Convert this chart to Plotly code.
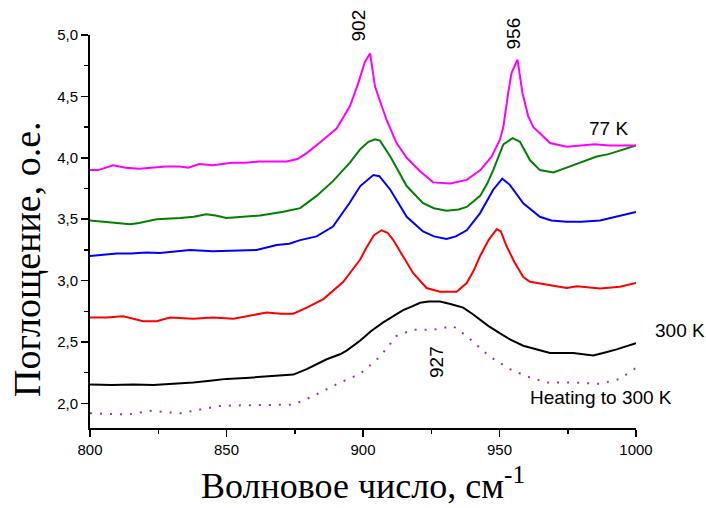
import plotly.graph_objects as go

# ---- data ----
x_77K = [800, 803, 808.5, 813, 818, 824, 828, 833, 836, 840, 845, 852, 857, 862, 867, 872, 876, 879.5,
         884, 890.4, 895.2, 898.3, 900.7, 902.6, 904.4, 906.8, 908.6, 912.3, 916, 920.9, 925.7, 932, 938,
         943, 947.1, 950.2, 951.4, 953.2, 954.4, 956.6, 958.4, 960.5, 962.4, 964.8, 968.5, 974.6, 980,
         985, 990, 995, 1000]
y_77K = [3.90, 3.90, 3.94, 3.92, 3.91, 3.92, 3.93, 3.93, 3.92, 3.95, 3.94, 3.96, 3.96, 3.97, 3.97, 3.97,
         3.99, 4.04, 4.12, 4.24, 4.42, 4.61, 4.78, 4.85, 4.58, 4.42, 4.31, 4.12, 4.00, 3.89, 3.80, 3.79,
         3.82, 3.90, 4.01, 4.15, 4.25, 4.53, 4.69, 4.80, 4.53, 4.34, 4.25, 4.20, 4.12, 4.09, 4.10, 4.11,
         4.10, 4.10, 4.10]

x_green = [800, 805, 810, 814.7, 818, 824.4, 833, 838, 842.6, 846, 850, 856, 862.3, 870.8, 877, 883, 889,
           895.2, 899, 902, 904.4, 906.2, 910, 913, 916, 922, 926, 930.6, 935, 938, 942.9, 945.5, 947.7,
           951.4, 954.8, 957.5, 961.2, 964.8, 969.7, 974.6, 979.5, 985.6, 990, 994.1, 1000]
y_green = [3.49, 3.48, 3.47, 3.46, 3.47, 3.50, 3.51, 3.52, 3.54, 3.53, 3.51, 3.52, 3.53, 3.56, 3.59, 3.69,
           3.81, 3.96, 4.07, 4.13, 4.15, 4.14, 4.01, 3.89, 3.77, 3.63, 3.59, 3.57, 3.58, 3.60, 3.69, 3.79,
           3.90, 4.11, 4.16, 4.13, 3.98, 3.90, 3.88, 3.92, 3.96, 4.01, 4.03, 4.06, 4.10]

x_blue = [800, 804, 809.8, 815, 820.8, 825.6, 831, 836.6, 845, 855, 861, 868.4, 873, 877, 883, 889, 895,
          899, 903.8, 906, 910, 913, 916, 922, 926, 930.6, 934, 938, 942.9, 947.7, 951, 953.8, 958.7,
          964.8, 969, 974.6, 980, 986.8, 994.1, 1000]
y_blue = [3.20, 3.21, 3.22, 3.22, 3.23, 3.225, 3.24, 3.25, 3.24, 3.25, 3.25, 3.29, 3.30, 3.33, 3.36, 3.44,
          3.63, 3.77, 3.86, 3.85, 3.74, 3.63, 3.52, 3.40, 3.36, 3.34, 3.36, 3.41, 3.55, 3.74, 3.83, 3.78,
          3.63, 3.52, 3.49, 3.48, 3.48, 3.49, 3.53, 3.56]

x_red = [800, 806, 812.2, 816, 819.5, 824.4, 829.3, 837.8, 845, 852.5, 858, 864.7, 870, 874.5, 879.4,
         885.5, 892.8, 898.9, 901.3, 904, 906.8, 909, 911.1, 915, 918.4, 923.3, 928.2, 934.3, 938, 940.5,
         942.9, 946, 949, 950.5, 952.6, 955.5, 958.7, 961.2, 969.7, 974.6, 978.3, 986.8, 994.1, 1000]
y_red = [2.70, 2.70, 2.71, 2.69, 2.67, 2.67, 2.70, 2.69, 2.70, 2.69, 2.71, 2.74, 2.73, 2.73, 2.78, 2.85,
         2.99, 3.17, 3.27, 3.37, 3.41, 3.39, 3.33, 3.18, 3.06, 2.94, 2.91, 2.91, 2.98, 3.08, 3.20, 3.33,
         3.42, 3.40, 3.28, 3.15, 3.03, 2.99, 2.96, 2.94, 2.955, 2.935, 2.95, 2.98]

x_300K = [800, 808, 815.9, 823.2, 830.5, 837.8, 844, 850, 858.6, 867, 874.5, 879.4, 886.7, 891.6, 894,
          898.9, 903, 907.4, 911, 914.7, 918, 920.9, 924, 928.2, 932, 936.7, 940, 942.9, 946, 950.2, 954,
          958.7, 964.8, 968.5, 977, 984.3, 988, 992.9, 1000]
y_300K = [2.155, 2.15, 2.155, 2.15, 2.16, 2.17, 2.185, 2.20, 2.21, 2.22, 2.235, 2.28, 2.36, 2.40, 2.43,
          2.51, 2.59, 2.66, 2.71, 2.76, 2.79, 2.82, 2.83, 2.83, 2.81, 2.78, 2.73, 2.68, 2.63, 2.57, 2.52,
          2.47, 2.43, 2.41, 2.41, 2.39, 2.41, 2.44, 2.49]

x_heat = [800, 814, 822, 833, 840.3, 847.6, 856, 867, 874.5, 881.8, 891.6, 898.9, 906.2, 912.3, 918.4,
          925.7, 933, 937.9, 946.5, 953.8, 960, 967.3, 977, 986.8, 994.1, 1000]
y_heat = [1.92, 1.91, 1.94, 1.92, 1.95, 1.98, 1.985, 1.99, 1.99, 2.06, 2.17, 2.24, 2.38, 2.55, 2.60, 2.60,
          2.63, 2.55, 2.38, 2.28, 2.22, 2.17, 2.17, 2.16, 2.20, 2.29]

x_ticks = [800, 850, 900, 950, 1000]
y_ticks = [2.0, 2.5, 3.0, 3.5, 4.0, 4.5, 5.0]

fig = go.Figure()
series = [
    (x_heat, y_heat, "#a030b0", "2px,8px"),
    (x_300K, y_300K, "black", "solid"),
    (x_red, y_red, "#ff0000", "solid"),
    (x_blue, y_blue, "#0000ff", "solid"),
    (x_green, y_green, "#008000", "solid"),
    (x_77K, y_77K, "#ff00ff", "solid"),
]
for xs, ys, col, dash in series:
    fig.add_trace(go.Scatter(x=xs, y=ys, mode="lines",
                             line=dict(color=col, width=2, dash=dash),
                             showlegend=False, hoverinfo="skip"))

# plot area in page pixels: x 90..636, y 35..428
PX0, PX1, PY0, PY1 = 90, 636, 35, 428
W, H = 706, 508
def px(xp):
    return (xp - PX0) / (PX1 - PX0)
def py(yp):
    return (PY1 - yp) / (PY1 - PY0)

lab_font = dict(family="Liberation Sans, Arial", size=19, color="black")
anns = [
    dict(x=px(357.5), y=py(26), text="902", textangle=-90),
    dict(x=px(512.5), y=py(34), text="956", textangle=-90),
    dict(x=px(608), y=py(128.5), text="77 K", textangle=0),
    dict(x=px(680), y=py(330), text="300 K", textangle=0),
    dict(x=px(436), y=py(362), text="927", textangle=-90),
    dict(x=px(601), y=py(397), text="Heating to 300 K", textangle=0),
]
for a in anns:
    fig.add_annotation(x=a["x"], y=a["y"], xref="paper", yref="paper", text=a["text"],
                       textangle=a["textangle"], showarrow=False, font=lab_font,
                       xanchor="center", yanchor="middle")

# y-axis title (placed a bit below the plot centre, as in the reference)
fig.add_annotation(x=px(27), y=py(259), xref="paper", yref="paper", text="Поглощение, о.е.",
                   textangle=-90, showarrow=False, xanchor="center", yanchor="middle",
                   font=dict(family="Liberation Serif, Times New Roman", size=38, color="black"))

fig.update_layout(
    width=W, height=H,
    margin=dict(l=PX0, r=W - PX1, t=PY0, b=H - PY1),
    paper_bgcolor="white", plot_bgcolor="white",
    separators=", ",
    hovermode=False,
    font=dict(family="Liberation Sans, Arial", size=13, color="black"),
)
fig.update_xaxes(
    range=[800, 1000], tickvals=x_ticks, tickformat="d", automargin=False,
    showgrid=False, zeroline=False, showline=True, linecolor="black", linewidth=2,
    ticks="outside", ticklen=7, tickwidth=1.5, tickcolor="black",
    minor=dict(ticks="outside", ticklen=4, tickwidth=1.5, tickcolor="black", dtick=25, showgrid=False),
    tickfont=dict(family="Liberation Sans, Arial", size=15),
    title=dict(text="Волновое число, см<sup>-1</sup>",
               font=dict(family="Liberation Serif, Times New Roman", size=36), standoff=16),
)
fig.update_yaxes(
    range=[1.8, 5.0], tickvals=y_ticks, tickformat=".1f", automargin=False,
    showgrid=False, zeroline=False, showline=True, linecolor="black", linewidth=2,
    ticks="outside", ticklen=7, tickwidth=1.5, tickcolor="black",
    minor=dict(ticks="outside", ticklen=4, tickwidth=1.5, tickcolor="black", dtick=0.25, showgrid=False),
    tickfont=dict(family="Liberation Sans, Arial", size=15),
)

# remove the default page margin so the 706x508 figure fills the window exactly
fig.write_html("out.html", config={"displayModeBar": False, "staticPlot": True},
               post_script="document.body.style.margin='0';document.body.style.overflow='hidden';")
